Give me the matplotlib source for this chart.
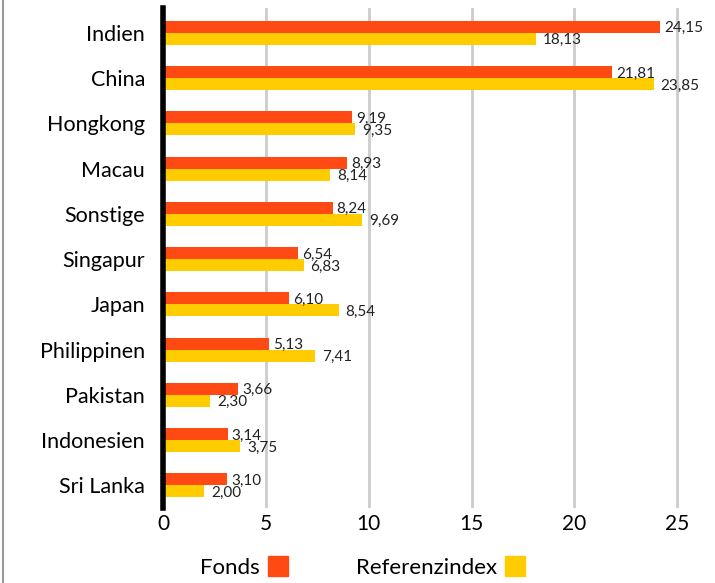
import numpy as np
import matplotlib.pyplot as plt
from matplotlib.lines import Line2D
from matplotlib.patches import Rectangle

plt.rcParams['font.family'] = ['Lato', 'DejaVu Sans']

countries = ['Indien', 'China', 'Hongkong', 'Macau', 'Sonstige', 'Singapur',
             'Japan', 'Philippinen', 'Pakistan', 'Indonesien', 'Sri Lanka']
fonds = [24.15, 21.81, 9.19, 8.93, 8.24, 6.54, 6.10, 5.13, 3.66, 3.14, 3.10]
referenz = [18.13, 23.85, 9.35, 8.14, 9.69, 6.83, 8.54, 7.41, 2.30, 3.75, 2.00]
xticks = [0, 5, 10, 15, 20, 25]

c_fonds = '#FF4A14'
c_ref = '#FFCC00'


def fmt(v):
    return f'{v:.2f}'.replace('.', ',')


fig = plt.figure(figsize=(7.15, 5.83), dpi=100)
ax = fig.add_axes([163 / 715, 75 / 583, (700 - 163) / 715, (575 - 75) / 583])

y = np.arange(len(countries))
h = 0.265
ax.barh(y - h / 2, fonds, height=h, color=c_fonds, zorder=3)
ax.barh(y + h / 2, referenz, height=h, color=c_ref, zorder=3)

for i in range(len(countries)):
    ax.annotate(fmt(fonds[i]), (fonds[i], y[i] - h / 2), xytext=(3, -1),
                textcoords='offset points', va='center', ha='left',
                fontsize=11, color='#222222', zorder=4)
    ax.annotate(fmt(referenz[i]), (referenz[i], y[i] + h / 2), xytext=(5, -1),
                textcoords='offset points', va='center', ha='left',
                fontsize=11, color='#222222', zorder=4)

ax.set_ylim(len(countries) - 0.5, -0.55)
ax.set_xlim(0, 26.1)
ax.set_yticks(y)
ax.set_yticklabels(countries, fontsize=15.5)
ax.set_xticks(xticks)
ax.set_xticklabels([str(t) for t in xticks], fontsize=15)
ax.tick_params(length=0)
ax.tick_params(axis='y', pad=13)
ax.tick_params(axis='x', pad=4)

for s in ['top', 'right', 'bottom']:
    ax.spines[s].set_visible(False)
ax.spines['left'].set_linewidth(4)
ax.spines['left'].set_color('black')
ax.spines['left'].set_zorder(5)
ax.grid(axis='x', color='#cccccc', linewidth=2, zorder=0)

# legend
fig.text(260 / 715, 1 - 568 / 583, 'Fonds', ha='right', va='center', fontsize=16)
fig.patches.append(Rectangle((268 / 715, 1 - 576 / 583), 20 / 715, 20 / 583,
                             transform=fig.transFigure, color=c_fonds))
fig.text(497 / 715, 1 - 568 / 583, 'Referenzindex', ha='right', va='center', fontsize=16)
fig.patches.append(Rectangle((505 / 715, 1 - 576 / 583), 20 / 715, 20 / 583,
                             transform=fig.transFigure, color=c_ref))

fig.lines.append(Line2D([3 / 715, 3 / 715], [0, 1], transform=fig.transFigure,
                        color='#999999', linewidth=1.5))

fig.savefig('out.png', dpi=100)
